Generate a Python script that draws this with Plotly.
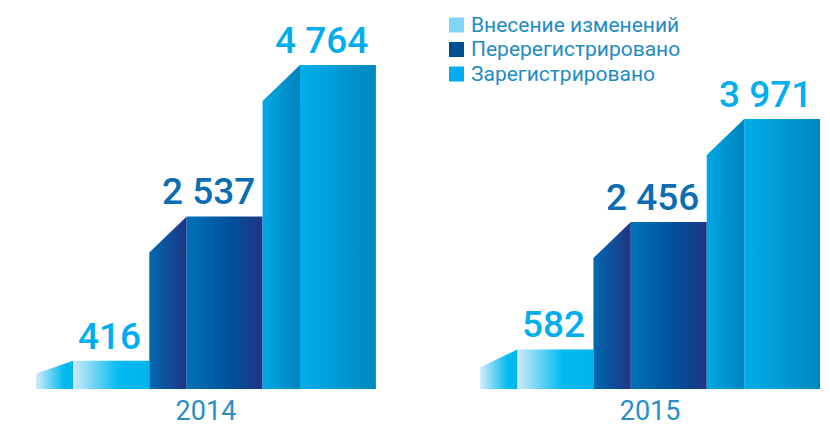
import plotly.graph_objects as go

years = ["2014", "2015"]
series = ["Внесение изменений", "Перерегистрировано", "Зарегистрировано"]
values = {
    "Внесение изменений": [416, 582],
    "Перерегистрировано": [2537, 2456],
    "Зарегистрировано": [4764, 3971],
}
value_labels = {
    "Внесение изменений": ["416", "582"],
    "Перерегистрировано": ["2 537", "2 456"],
    "Зарегистрировано": ["4 764", "3 971"],
}

# styles
side_scales = {
    "Внесение изменений": [[0, "#d2ecf9"], [0.75, "#00baf0"], [1, "#00b4ec"]],
    "Перерегистрировано": [[0, "#0069b1"], [1, "#1f3584"]],
    "Зарегистрировано": [[0, "#00a8e4"], [1, "#0083bd"]],
}
front_scales = {
    "Внесение изменений": [[0, "#cdeaf8"], [0.6, "#00baf0"], [1, "#00b4ec"]],
    "Перерегистрировано": [[0, "#0072b8"], [0.55, "#00529b"], [1, "#1f3584"]],
    "Зарегистрировано": [[0, "#00aeea"], [1, "#0086bf"]],
}
label_colors = {
    "Внесение изменений": "#00aeef",
    "Перерегистрировано": "#0b6db2",
    "Зарегистрировано": "#00aeef",
}
legend_colors = ["#7fd4f7", "#00508f", "#00aeef"]

FONT = "Roboto"
W, H = 830, 428
PX_PER_UNIT = 0.068       # vertical pixels per data unit
BASE_PX = 389             # baseline from top
SLOT_PX = 113.3
LEFT_PX = 36
GROUP_OFFSET = 3.92       # in slot units
SIDE_FRAC = 0.33
DROP = 530                # slant drop in data units (max)

fig = go.Figure()

for g, yr in enumerate(years):
    for i, s in enumerate(series):
        v = values[s][g]
        x0 = g * GROUP_OFFSET + i
        xs = x0 + SIDE_FRAC
        x1 = x0 + 1
        drop = min(DROP, 0.45 * v)
        # side face
        fig.add_trace(go.Scatter(
            x=[x0, x0, xs, xs, x0], y=[0, v - drop, v, 0, 0],
            mode="lines", line=dict(width=0), fill="toself",
            fillgradient=dict(type="horizontal", colorscale=side_scales[s]),
            hoverinfo="skip", showlegend=False))
        # front face
        fig.add_trace(go.Scatter(
            x=[xs, xs, x1, x1, xs], y=[0, v, v, 0, 0],
            mode="lines", line=dict(width=0), fill="toself",
            fillgradient=dict(type="horizontal", colorscale=front_scales[s]),
            hoverinfo="text", text=f"{s}: {value_labels[s][g]}",
            showlegend=False))
        fig.add_annotation(
            x=x1, y=v, text=value_labels[s][g], showarrow=False,
            xanchor="right", yanchor="bottom", xshift=-6, yshift=1,
            font=dict(family=FONT, size=37, color=label_colors[s], weight=500))

# legend (manual)
leg_x, leg_y0, leg_dy, sq = 449, 25, 24.5, 15
for k, s in enumerate(series):
    cy = leg_y0 + k * leg_dy
    fig.add_shape(type="rect", xref="paper", yref="paper",
                  x0=leg_x / W, x1=(leg_x + sq) / W,
                  y0=1 - (cy + sq / 2) / (BASE_PX), y1=1 - (cy - sq / 2) / (BASE_PX),
                  fillcolor=legend_colors[k], line=dict(width=0))
    fig.add_annotation(xref="paper", yref="paper",
                       x=(leg_x + sq + 5) / W, y=1 - cy / BASE_PX,
                       text=s, showarrow=False, xanchor="left", yanchor="middle",
                       font=dict(family=FONT, size=21, color="#1f8bc6"))

x_min = -LEFT_PX / SLOT_PX
x_max = x_min + W / SLOT_PX
tick_pos = [g * GROUP_OFFSET + 1.5 for g in range(len(years))]

fig.update_layout(
    width=W, height=H,
    margin=dict(l=0, r=0, t=0, b=H - BASE_PX),
    paper_bgcolor="white", plot_bgcolor="white",
    xaxis=dict(range=[x_min, x_max], showgrid=False, zeroline=False,
               showline=False, tickvals=tick_pos, ticktext=years,
               tickfont=dict(family=FONT, size=27, color="#2a8fc8"),
               ticks="", ticklabelstandoff=3, fixedrange=True),
    yaxis=dict(range=[0, BASE_PX / PX_PER_UNIT], showgrid=False,
               zeroline=False, showline=False, showticklabels=False,
               fixedrange=True),
    showlegend=False,
)

fig.write_html("out.html", config={"displayModeBar": False})

with open("out.html", "r", encoding="utf-8") as f:
    html = f.read()
html = html.replace("<head>", "<head><style>html,body{margin:0;padding:0;overflow:hidden;}</style>", 1)
with open("out.html", "w", encoding="utf-8") as f:
    f.write(html)
